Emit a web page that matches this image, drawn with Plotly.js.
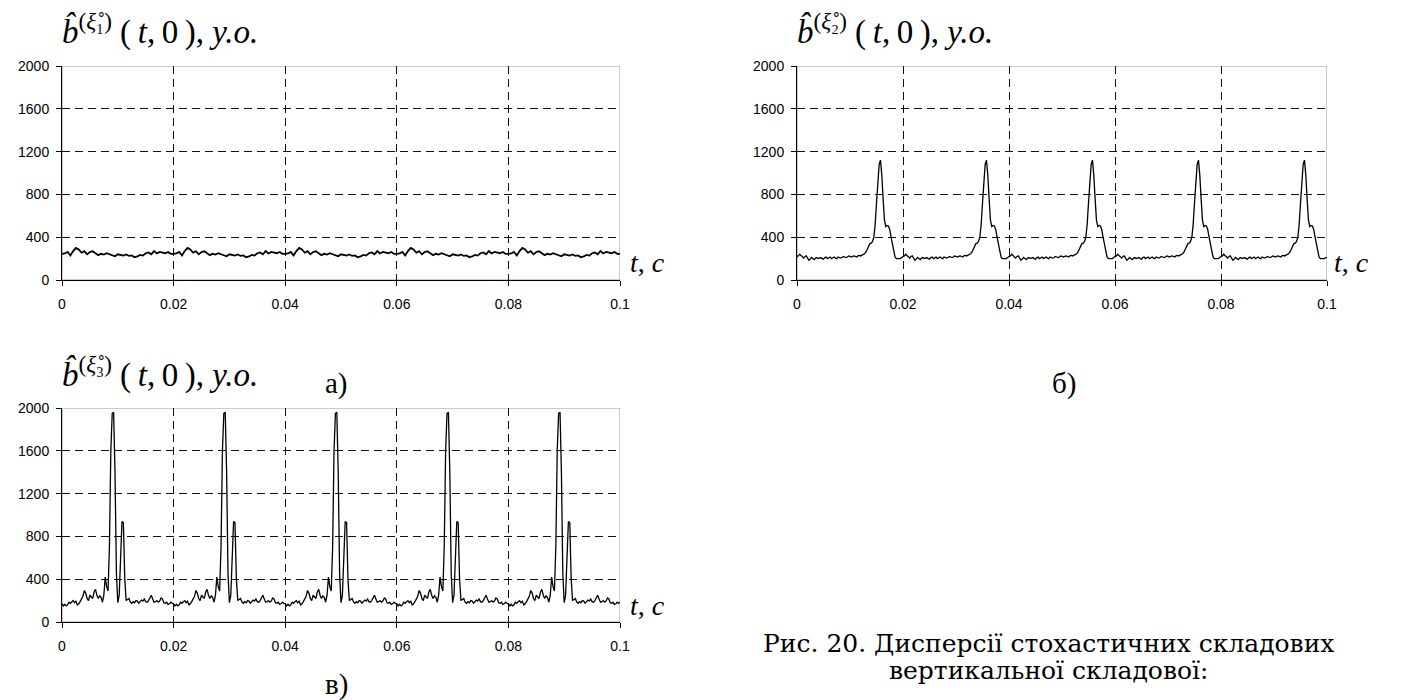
<!DOCTYPE html>
<html>
<head>
<meta charset="utf-8">
<script src="https://cdn.plot.ly/plotly-3.0.1.min.js"></script>
<style>html,body{margin:0;padding:0;background:#fff;}#chart{width:1402px;height:700px;}</style>
</head>
<body>
<div id="chart"></div>
<script>
// ---- data ----
const xTickVals = [0, 0.02, 0.04, 0.06, 0.08, 0.1];
const xTickText = ["0", "0.02", "0.04", "0.06", "0.08", "0.1"];
const yTickVals = [0, 400, 800, 1200, 1600, 2000];
const yTickText = ["0", "400", "800", "1200", "1600", "2000"];

const stepA = 0.0005;   // sampling step of series a
const stepBC = 0.00025; // sampling step of series b and c

// a) series, values every 0.0005 s
const valuesA = [
245,248,262,230,270,300,285,255,270,240,262,268,250,232,245,238,250,240,235,222,240,235,228,238,225,230,212,220,235,228,250,258,240,270,248,262,255,250,262,245,
245,248,262,230,270,300,285,255,270,240,262,268,250,232,245,238,250,240,235,222,240,235,228,238,225,230,212,220,235,228,250,258,240,270,248,262,255,250,262,245,
245,248,262,230,270,300,285,255,270,240,262,268,250,232,245,238,250,240,235,222,240,235,228,238,225,230,212,220,235,228,250,258,240,270,248,262,255,250,262,245,
245,248,262,230,270,300,285,255,270,240,262,268,250,232,245,238,250,240,235,222,240,235,228,238,225,230,212,220,235,228,250,258,240,270,248,262,255,250,262,245,
245,248,262,230,270,300,285,255,270,240,262,268,250,232,245,238,250,240,235,222,240,235,228,238,225,230,212,220,235,228,250,258,240,270,248,262,255,250,262,245,
245];

// б) series, values every 0.00025 s
const valuesB = [
215,225,240,230,215,205,220,225,205,185,195,210,200,190,205,210,200,205,210,200,195,210,215,200,205,215,200,210,215,205,200,215,210,205,210,220,215,210,215,225,220,215,220,225,220,215,225,230,225,230,240,245,260,290,320,340,345,360,400,520,720,920,1080,1120,980,760,560,500,510,505,470,400,330,260,215,200,200,205,200,210,
215,225,240,230,215,205,220,225,205,185,195,210,200,190,205,210,200,205,210,200,195,210,215,200,205,215,200,210,215,205,200,215,210,205,210,220,215,210,215,225,220,215,220,225,220,215,225,230,225,230,240,245,260,290,320,340,345,360,400,520,720,920,1080,1120,980,760,560,500,510,505,470,400,330,260,215,200,200,205,200,210,
215,225,240,230,215,205,220,225,205,185,195,210,200,190,205,210,200,205,210,200,195,210,215,200,205,215,200,210,215,205,200,215,210,205,210,220,215,210,215,225,220,215,220,225,220,215,225,230,225,230,240,245,260,290,320,340,345,360,400,520,720,920,1080,1120,980,760,560,500,510,505,470,400,330,260,215,200,200,205,200,210,
215,225,240,230,215,205,220,225,205,185,195,210,200,190,205,210,200,205,210,200,195,210,215,200,205,215,200,210,215,205,200,215,210,205,210,220,215,210,215,225,220,215,220,225,220,215,225,230,225,230,240,245,260,290,320,340,345,360,400,520,720,920,1080,1120,980,760,560,500,510,505,470,400,330,260,215,200,200,205,200,210,
215,225,240,230,215,205,220,225,205,185,195,210,200,190,205,210,200,205,210,200,195,210,215,200,205,215,200,210,215,205,200,215,210,205,210,220,215,210,215,225,220,215,220,225,220,215,225,230,225,230,240,245,260,290,320,340,345,360,400,520,720,920,1080,1120,980,760,560,500,510,505,470,400,330,260,215,200,200,205,200,210,
210];

// в) series, values every 0.00025 s
const valuesC = [
170,150,165,150,160,185,175,190,200,180,195,160,170,190,210,240,295,270,220,200,250,230,220,280,305,250,220,245,230,185,250,420,330,290,700,1600,1950,1960,1400,450,180,250,650,940,930,400,200,210,220,185,175,190,180,200,195,175,190,205,195,215,190,185,200,230,250,215,185,190,200,185,195,225,215,180,175,185,165,170,185,175,
170,150,165,150,160,185,175,190,200,180,195,160,170,190,210,240,295,270,220,200,250,230,220,280,305,250,220,245,230,185,250,420,330,290,700,1600,1950,1960,1400,450,180,250,650,940,930,400,200,210,220,185,175,190,180,200,195,175,190,205,195,215,190,185,200,230,250,215,185,190,200,185,195,225,215,180,175,185,165,170,185,175,
170,150,165,150,160,185,175,190,200,180,195,160,170,190,210,240,295,270,220,200,250,230,220,280,305,250,220,245,230,185,250,420,330,290,700,1600,1950,1960,1400,450,180,250,650,940,930,400,200,210,220,185,175,190,180,200,195,175,190,205,195,215,190,185,200,230,250,215,185,190,200,185,195,225,215,180,175,185,165,170,185,175,
170,150,165,150,160,185,175,190,200,180,195,160,170,190,210,240,295,270,220,200,250,230,220,280,305,250,220,245,230,185,250,420,330,290,700,1600,1950,1960,1400,450,180,250,650,940,930,400,200,210,220,185,175,190,180,200,195,175,190,205,195,215,190,185,200,230,250,215,185,190,200,185,195,225,215,180,175,185,165,170,185,175,
170,150,165,150,160,185,175,190,200,180,195,160,170,190,210,240,295,270,220,200,250,230,220,280,305,250,220,245,230,185,250,420,330,290,700,1600,1950,1960,1400,450,180,250,650,940,930,400,200,210,220,185,175,190,180,200,195,175,190,205,195,215,190,185,200,230,250,215,185,190,200,185,195,225,215,180,175,185,165,170,185,175,
185];

const titleA = "<i>b̂</i><sup>(<i>ξ̊</i>₁)</sup> (\u2009<i>t</i>,\u20090\u2009), <i>y.o.</i>";
const titleB = "<i>b̂</i><sup>(<i>ξ̊</i>₂)</sup> (\u2009<i>t</i>,\u20090\u2009), <i>y.o.</i>";
const titleC = "<i>b̂</i><sup>(<i>ξ̊</i>₃)</sup> (\u2009<i>t</i>,\u20090\u2009), <i>y.o.</i>";
const axisLabel = "<i>t</i>, <i>c</i>";
const panelLabels = ["а)", "б)", "в)"];
const captionLines = ["Рис. 20. Дисперсії стохастичних складових", "вертикальної складової:"];

// ---- build ----
const W = 1402, H = 700;
const timeGrid = (n, step) => Array.from({length: n}, (_, i) => +(i * step).toFixed(6));
const px = x => x / W;
const py = y => 1 - y / H;

const lineStyle = w => ({color: '#000', width: w, shape: 'linear'});
const traces = [
  {x: timeGrid(valuesA.length, stepA), y: valuesA, xaxis: 'x', yaxis: 'y', mode: 'lines', line: lineStyle(1.8), hoverinfo: 'skip'},
  {x: timeGrid(valuesB.length, stepBC), y: valuesB, xaxis: 'x2', yaxis: 'y2', mode: 'lines', line: lineStyle(1.3), hoverinfo: 'skip'},
  {x: timeGrid(valuesC.length, stepBC), y: valuesC, xaxis: 'x3', yaxis: 'y3', mode: 'lines', line: lineStyle(1.3), hoverinfo: 'skip'}
];

const tickFont = {family: 'Liberation Sans, Arial, sans-serif', size: 14, color: '#000'};
function xAx(domain, anchor) {
  return {domain: domain, anchor: anchor, range: [0, 0.1], tickvals: xTickVals, ticktext: xTickText,
    showline: true, linecolor: '#000', linewidth: 1, ticks: 'outside', ticklen: 5, tickcolor: '#000',
    showgrid: true, gridcolor: '#111', gridwidth: 1, griddash: '8px,5px', zeroline: false,
    tickfont: tickFont, ticklabelstandoff: 6, fixedrange: true};
}
function yAx(domain, anchor) {
  return {domain: domain, anchor: anchor, range: [0, 2000], tickvals: yTickVals, ticktext: yTickText,
    showline: true, linecolor: '#000', linewidth: 1, ticks: 'outside', ticklen: 5, tickcolor: '#000',
    showgrid: true, gridcolor: '#111', gridwidth: 1, griddash: '8px,5px', zeroline: false,
    tickfont: tickFont, ticklabelstandoff: 4, fixedrange: true};
}

const dxA = [px(62), px(620)], dxB = [px(797), px(1327)];
const dyTop = [py(280), py(66)], dyBot = [py(622), py(408)];

const serif = 'Liberation Serif, Times New Roman, serif';
const wideSerif = 'DejaVu Serif, Liberation Serif, serif';
function ann(text, x, y, size, xanchor, family) {
  return {text: text, x: px(x), y: py(y), xref: 'paper', yref: 'paper', showarrow: false,
    xanchor: xanchor || 'left', yanchor: 'middle', font: {family: family || serif, size: size, color: '#000'}};
}

const annotations = [
  ann(titleA, 60, 30, 33),
  ann(titleB, 795, 30, 33),
  ann(titleC, 60, 372, 33),
  ann(axisLabel, 628, 263, 28),
  ann(axisLabel, 1332, 263, 28),
  ann(axisLabel, 628, 605, 28),
  ann(panelLabels[0], 336, 383, 29, 'center'),
  ann(panelLabels[1], 1064, 383, 29, 'center'),
  ann(panelLabels[2], 336, 684, 29, 'center'),
  ann(captionLines[0], 1048, 643, 25, 'center', wideSerif),
  ann(captionLines[1], 1048, 670, 25, 'center', wideSerif)
];

const borderShape = (xr, yr) => ({type: 'rect', xref: xr, yref: yr, x0: 0, x1: 0.1, y0: 0, y1: 2000,
  line: {color: '#999', width: 1}, layer: 'below'});

const layout = {
  width: W, height: H, margin: {l: 0, r: 0, t: 0, b: 0, pad: 0},
  paper_bgcolor: '#fff', plot_bgcolor: '#fff', showlegend: false,
  xaxis: xAx(dxA, 'y'), yaxis: yAx(dyTop, 'x'),
  xaxis2: xAx(dxB, 'y2'), yaxis2: yAx(dyTop, 'x2'),
  xaxis3: xAx(dxA, 'y3'), yaxis3: yAx(dyBot, 'x3'),
  shapes: [borderShape('x', 'y'), borderShape('x2', 'y2'), borderShape('x3', 'y3')],
  annotations: annotations
};

Plotly.newPlot('chart', traces, layout, {staticPlot: true, displayModeBar: false});
</script>
</body>
</html>
